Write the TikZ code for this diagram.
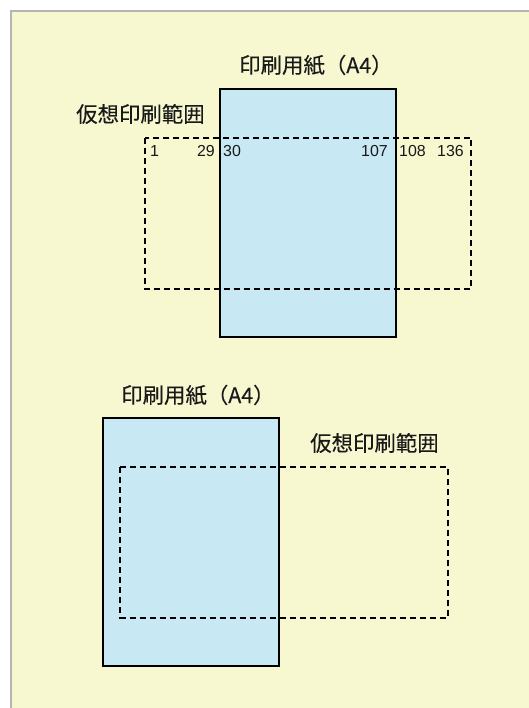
\documentclass[tikz,border=0pt]{standalone}
\usepackage{fontspec}
\setmainfont{Noto Sans CJK JP}[FakeBold=0.2]
\newfontfamily\digitfont{Liberation Sans}
\usepackage{xcolor}
\usepackage{tikz}
\usetikzlibrary{positioning}

\definecolor{paperblue}{RGB}{200,233,244}
\definecolor{panelyellow}{RGB}{247,247,208}
\definecolor{framegray}{RGB}{180,180,180}
\definecolor{inkgray}{RGB}{25,25,25}

\tikzset{
  paper/.style={fill=paperblue, draw=black, line width=2bp},
  virtarea/.style={draw=black, line width=2bp, dash pattern=on 6bp off 4bp},
  lbl/.style={inner sep=0pt, font=\fontsize{21.5}{25}\selectfont, text=inkgray},
  num/.style={inner sep=0pt, font=\digitfont\fontsize{16}{18}\selectfont, text=inkgray}
}

\begin{document}
\begin{tikzpicture}[x=1bp,y=-1bp]

\useasboundingbox (0,0) rectangle (529,708);
	\fill[white] (0,0) rectangle (529,708);
	\fill[panelyellow] (11,11) rectangle (529,708); % panel
\draw[framegray, line width=2.4bp] (11,708) -- (11,11) -- (529,11); % frame

% upper case
	\filldraw[paper] (220,89) rectangle (396,337); % paper
\draw[virtarea] (144.5,137.5) rectangle (471,288.5); % virtual area

\node[lbl, anchor=west] (paperUp) at (239,65) {印刷用紙（A4）};
\node[lbl, anchor=west] (areaUp) at (76,114) {仮想印刷範囲};

  \node[num, anchor=west] (n1) at (150,151) {1};
  \node[num, anchor=east] (n29) at (215,151) {29};
  \node[num, anchor=west] (n30) at (223,151) {30};
  \node[num, anchor=east] (n107) at (388,151) {107};
  \node[num, anchor=west] (n108) at (399,151) {108};
  \node[num, anchor=east] (n136) at (464,151) {136};

% lower case
	\filldraw[paper] (102.5,418) rectangle (278.5,666); % paper
\draw[virtarea] (120,467) rectangle (447.5,617.5); % virtual area

\node[lbl, anchor=west] (paperLow) at (121,395) {印刷用紙（A4）};
\node[lbl, anchor=west] (areaLow) at (310,443) {仮想印刷範囲};

\end{tikzpicture}
\end{document}
